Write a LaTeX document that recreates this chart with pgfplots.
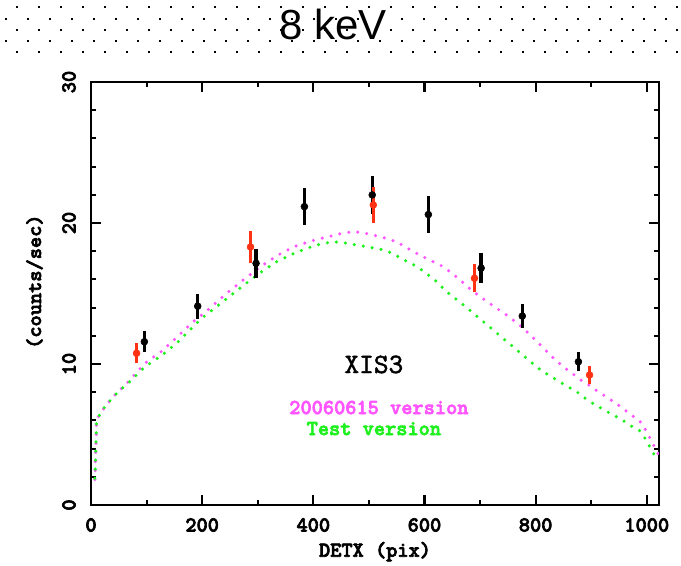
\documentclass[border=0pt]{standalone}
\usepackage{fontspec}
\usepackage{pgfplots}
\pgfplotsset{compat=1.18}
\newfontfamily\titlefont{Liberation Sans}
\newfontfamily\pgbold{lmmonolt10-bold.otf}[FakeBold=3]
\newfontfamily\pgmed{lmmono10-regular.otf}[FakeBold=1.5]
\definecolor{pmag}{RGB}{255,85,255}
\definecolor{tgreen}{RGB}{30,240,30}
\definecolor{pred}{RGB}{255,50,20}
\newcommand\pgfont{\pgbold\fontsize{16}{16}\selectfont}

\begin{document}
\begin{tikzpicture}
% dotted band behind the title (1 px = 0.75pt)
\foreach \r/\yy in {0/557.7,1/546,2/534.5,3/523.5,4/512.7}{
  \pgfmathsetmacro\xo{ifthenelse(mod(\r,2)==0,17.3,6)}
  \foreach \k in {0,...,30}{
    \fill ({(\xo+22*\k-1)*0.75pt},{(\yy-1)*0.75pt}) rectangle ++(1.5pt,1.5pt);
  }
}
\node[font=\titlefont\fontsize{31.5}{32}\selectfont, anchor=base] at (249.75pt,394.3pt) {8 keV};

\begin{axis}[
  at={(68.25pt,45pt)}, anchor=south west,
  width=426pt, height=317.25pt, scale only axis,
  xmin=0, xmax=1022, ymin=0, ymax=30,
  xtick={0,200,...,1000}, ytick={0,10,20,30},
  minor x tick num=1, minor y tick num=4,
  major tick length=7.5pt, minor tick length=4pt,
  tick align=inside,
  axis line style={line width=1.5pt},
  every tick/.style={black, line width=1.6pt},
  /pgf/number format/assume math mode=true,
  /pgf/number format/1000 sep={},
  ticklabel style={font=\pgfont, inner sep=0pt},
  xticklabel shift=9.75pt,
  yticklabel style={rotate=90, anchor=south},
  yticklabel shift=11.25pt,
  xlabel={DETX (pix)}, ylabel={(counts/sec)},
  label style={font=\pgfont, inner sep=0pt},
  xlabel style={at={(axis description cs:0.5,-0.1223)}, anchor=base},
  ylabel style={at={(axis description cs:-0.088,0.528)}, anchor=base},
]
% 20060615 version
\addplot[pmag, line width=2.6pt, line cap=round, dash pattern=on 0pt off 6.8pt] coordinates {
  (7,1.8) (8,3.0) (9,4.5) (10,5.9) (14,6.3) (25,6.97) (43,7.8) (67,8.74)
  (97,10.05) (127,10.9) (157,12.0) (187,13.1) (214,13.95) (229,14.5)
  (250,15.2) (274,15.96) (295,16.6) (316,17.2) (340,17.8) (364,18.3)
  (394,18.7) (424,19.0) (450,19.25) (472,19.4) (496,19.25) (520,19.03)
  (550,18.67) (580,17.96) (608,17.4) (634,16.9) (660,16.1) (688,15.13)
  (710,14.5) (730,13.95) (754,13.3) (778,12.53) (810,11.3) (830,10.5)
  (849.5,9.81) (864.5,9.38) (880,8.9) (896,8.5) (911,8.08) (927,7.68)
  (942,7.28) (957,6.86) (972,6.38) (987,5.98) (998,5.32) (1007,4.66)
  (1017,3.9) (1021,3.6)
};
% Test version
\addplot[tgreen, line width=2.6pt, line cap=round, dash pattern=on 0pt off 6.8pt] coordinates {
  (7,1.9) (8,3.0) (9,4.5) (10,5.9) (14,6.3) (25,6.97) (43,7.8) (67,8.65)
  (97,9.8) (127,10.6) (157,11.58) (180,12.5) (199,13.24) (226,14.07)
  (256,15.0) (298,16.3) (334,17.25) (360,17.75) (388,18.2) (412,18.5)
  (436,18.67) (454,18.6) (476,18.45) (496,18.32) (526,18.1) (545,17.8)
  (562,17.4) (580,17.05) (598,16.6) (620,15.9) (640,15.13) (665,14.35)
  (688,13.6) (706,13.0) (724,12.4) (745,11.7) (766,11.0) (787,10.3)
  (808,9.6) (826,9.15) (843,8.74) (860,8.35) (876,7.97) (891,7.52)
  (903,7.21) (923,6.74) (940,6.38) (956,6.03) (972,5.6) (987,5.27)
  (998,4.66) (1007,4.02) (1016,3.38) (1020,3.1)
};
% measured rates
\addplot[black, only marks, mark=*, mark size=2.6pt,
  error bars/.cd, y dir=both, y explicit,
  error bar style={line width=2.5pt}, error mark=none] coordinates {
  (96,11.58) +- (0,0.75)
  (192,14.1) +- (0,0.9)
  (297,17.14) +- (0,1.05)
  (384,21.16) +- (0,1.3)
  (506,21.99) +- (0,1.37)
  (607,20.6) +- (0,1.3)
  (702,16.8) +- (0,1.06)
  (776,13.4) +- (0,0.86)
  (877,10.16) +- (0,0.66)
};
\addplot[pred, only marks, mark=*, mark size=2.6pt,
  error bars/.cd, y dir=both, y explicit,
  error bar style={line width=2.5pt}, error mark=none] coordinates {
  (82,10.76) +- (0,0.7)
  (287,18.3) +- (0,1.15)
  (508,21.28) +- (0,1.3)
  (690,16.08) +- (0,1.0)
  (897,9.22) +- (0,0.64)
};
\node[font=\pgmed\fontsize{21}{21}\selectfont, anchor=base] at (axis cs:509,9.36) {XIS3};
\node[font=\pgfont, text=pmag, anchor=base] at (axis cs:518,6.45) {20060615 version};
\node[font=\pgfont, text=tgreen, anchor=base] at (axis cs:509,4.96) {Test version};
\end{axis}
\pgfresetboundingbox
\path[use as bounding box] (0,0) rectangle (510.75pt,423.75pt);
\end{tikzpicture}
\end{document}
